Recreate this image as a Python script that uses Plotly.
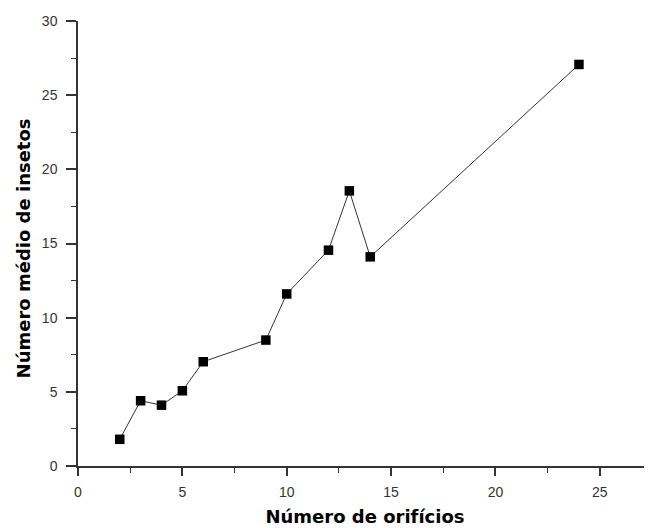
import plotly.graph_objects as go

orificios = [2, 3, 4, 5, 6, 9, 10, 12, 13, 14, 24]
insetos = [1.8, 4.4, 4.1, 5.07, 7.03, 8.49, 11.6, 14.55, 18.55, 14.1, 27.07]

x_ticks = [0, 5, 10, 15, 20, 25]
y_ticks = [0, 5, 10, 15, 20, 25, 30]

fig = go.Figure()
fig.add_trace(go.Scatter(
    x=orificios, y=insetos, mode="lines+markers",
    line=dict(color="#333333", width=1),
    marker=dict(symbol="square", size=9.5, color="black"),
    showlegend=False,
))

axis_font = dict(family="Arial, Liberation Sans, sans-serif", size=14, color="#333333")
title_font = dict(family="DejaVu Sans, sans-serif", size=18, color="black")

# page body adds an 8px offset; compensate in size and margins
fig.update_layout(
    width=644, height=520,
    margin=dict(l=70, r=0, t=13, b=62),
    paper_bgcolor="white", plot_bgcolor="white",
    xaxis=dict(
        range=[0, 27.5], tickvals=x_ticks, ticktext=[str(v) for v in x_ticks],
        showgrid=False, zeroline=False, showline=True, linecolor="#333333", linewidth=1.5,
        ticks="outside", ticklen=8, tickwidth=1.5, tickcolor="#333333",
        minor=dict(dtick=2.5, ticks="outside", ticklen=5, tickwidth=1, tickcolor="#333333"),
        tickfont=axis_font, ticklabelstandoff=4,
        title=dict(text="<b>Número de orifícios</b>", font=title_font, standoff=12),
        automargin=False,
    ),
    yaxis=dict(
        range=[0, 30], tickvals=y_ticks, ticktext=[str(v) for v in y_ticks],
        showgrid=False, zeroline=False, showline=True, linecolor="#333333", linewidth=1.5,
        ticks="outside", ticklen=10, tickwidth=1.5, tickcolor="#333333",
        minor=dict(dtick=2.5, ticks="outside", ticklen=5, tickwidth=1, tickcolor="#333333"),
        tickfont=axis_font, ticklabelstandoff=6,
        automargin=False,
    ),
    annotations=[dict(
        text="<b>Número médio de insetos</b>", font=title_font, textangle=-90,
        xref="paper", yref="paper", x=0, y=0.489, xanchor="center", yanchor="middle",
        xshift=-55, showarrow=False,
    )],
)

fig.write_html("out.html")
